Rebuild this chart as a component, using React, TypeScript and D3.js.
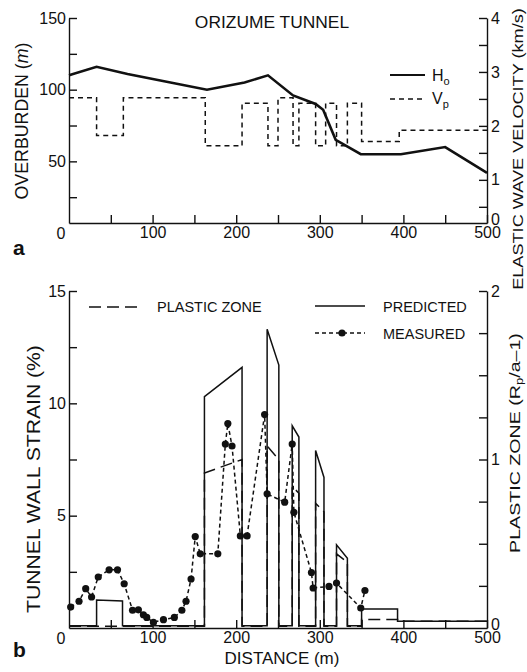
import { useEffect, useRef } from "react";
import * as d3 from "d3";

const FONT = "'Liberation Sans', Arial, Helvetica, sans-serif";

// (a) overburden H0 (m) along the tunnel
const hoDistance = [0, 33, 70, 165, 210, 238, 268, 295, 304, 319, 349, 397, 450, 500];
const hoOverburden = [110, 116, 111, 100, 105, 110, 96, 90, 86, 65, 55, 55, 60, 42];

// (a) elastic wave velocity Vp (km/s), constant from each break to the next one
const vpDistance = [0, 33, 65, 163, 207, 238, 250, 268, 275, 295, 307, 320, 333, 350, 395, 500];
const vpVelocity = [2.52, 1.82, 2.52, 1.63, 2.42, 1.63, 2.52, 1.63, 2.42, 1.63, 2.42, 1.63, 2.42, 1.71, 1.92, 1.92];

// (b) predicted tunnel wall strain (%)
const predDistance = [0, 33, 33, 64, 64, 162, 162, 207, 207, 237, 237, 251, 251, 267, 267, 275, 275, 295, 295, 305, 305, 320, 320, 333, 333, 350, 350, 393, 393, 500];
const predStrain = [0.1, 0.1, 1.25, 1.2, 0.1, 0.1, 10.3, 11.6, 0.1, 0.1, 13.3, 11.7, 0.1, 0.1, 9.0, 8.5, 0.1, 0.1, 7.9, 6.7, 0.1, 0.1, 3.7, 3.1, 0.1, 0.1, 0.85, 0.85, 0.3, 0.3];

// (b) predicted plastic zone (Rp/a - 1)
const plasticDistance = [0, 162, 162, 207, 207, 237, 237, 251, 251, 267, 267, 275, 275, 295, 295, 305, 305, 320, 320, 333, 333, 350, 350, 393, 393, 500];
const plasticZone = [0.01, 0.01, 0.92, 1.0, 0.01, 0.01, 1.08, 1.0, 0.01, 0.01, 0.84, 0.8, 0.01, 0.01, 0.74, 0.69, 0.01, 0.01, 0.44, 0.39, 0.01, 0.01, 0.05, 0.05, 0.04, 0.04];

// (b) measured wall strain (%)
const measDistance = [2, 12, 20, 27, 35, 48, 58, 66, 76, 83, 89, 93, 101, 113, 126, 135, 140, 146, 151, 157, 178, 187, 190, 195, 205, 213, 234, 237, 258, 267, 269, 290, 292, 311, 320, 349, 354];
const measStrain = [0.93, 1.19, 1.75, 1.38, 2.27, 2.59, 2.59, 1.97, 0.79, 0.81, 0.59, 0.47, 0.25, 0.37, 0.47, 0.79, 1.19, 2.18, 4.07, 3.3, 3.3, 8.19, 9.1, 8.1, 4.1, 4.1, 9.5, 5.97, 5.6, 8.19, 5.15, 2.47, 1.78, 1.85, 2.0, 0.89, 1.67];

const xTicks = [50, 100, 150, 200, 250, 300, 350, 400, 450, 500];
const overburdenTicks = [25, 50, 75, 100, 125, 150];
const velocityTicks = [0.5, 1, 1.5, 2, 2.5, 3, 3.5, 4];
const strainTicks = [2.5, 5, 7.5, 10, 12.5, 15];
const plasticTicks = [0.25, 0.5, 0.75, 1, 1.25, 1.5, 1.75, 2];

const zip = (a, b) => a.map((v, i) => [v, b[i]]);

export default function App() {
  const svgRef = useRef(null);

  useEffect(() => {
    const svg = d3.select(svgRef.current);
    svg.selectAll("*").remove();
    svg.attr("font-family", FONT);

    const x = d3.scaleLinear().domain([0, 500]).range([69, 487]);
    const yHo = d3.scaleLinear().domain([7, 150]).range([223, 18]);
    const yVp = d3.scaleLinear().domain([0.2, 4]).range([223, 18]);
    const yStrain = d3.scaleLinear().domain([0, 15]).range([628, 291]);
    const yPlastic = d3.scaleLinear().domain([0, 2]).range([628, 291]);

    const styleAxis = (g) => {
      g.attr("font-family", FONT).attr("font-size", 16);
      g.selectAll("path, line").attr("stroke", "#111").attr("stroke-width", 1.4);
      g.selectAll("text").attr("fill", "#111");
    };
    const every = (n) => (d) => (d % n === 0 ? d : "");

    // ---------- panel a ----------
    svg.append("g").attr("transform", "translate(0,223)")
      .call(d3.axisBottom(x).tickValues(xTicks).tickSize(-8).tickSizeOuter(0).tickPadding(4).tickFormat(every(100)))
      .call(styleAxis);
    svg.append("g").attr("transform", "translate(69,0)")
      .call(d3.axisLeft(yHo).tickValues(overburdenTicks).tickSize(-8).tickSizeOuter(0).tickPadding(3).tickFormat(every(50)))
      .call(styleAxis);
    svg.append("g").attr("transform", "translate(487,0)")
      .call(d3.axisRight(yVp).tickValues(velocityTicks).tickSize(-8).tickSizeOuter(0).tickPadding(4).tickFormat(every(1)))
      .call(styleAxis);

    const lineHo = d3.line().x((d) => x(d[0])).y((d) => yHo(d[1]));
    svg.append("path").datum(zip(hoDistance, hoOverburden))
      .attr("d", lineHo).attr("fill", "none").attr("stroke", "#111").attr("stroke-width", 2.6);

    const lineVp = d3.line().curve(d3.curveStepAfter).x((d) => x(d[0])).y((d) => yVp(d[1]));
    svg.append("path").datum(zip(vpDistance, vpVelocity))
      .attr("d", lineVp).attr("fill", "none").attr("stroke", "#111")
      .attr("stroke-width", 1.5).attr("stroke-dasharray", "5,4");

    // ---------- panel b ----------
    svg.append("g").attr("transform", "translate(0,628)")
      .call(d3.axisBottom(x).tickValues(xTicks).tickSize(-8).tickSizeOuter(0).tickPadding(4).tickFormat(every(100)))
      .call(styleAxis);
    svg.append("g").attr("transform", "translate(69,0)")
      .call(d3.axisLeft(yStrain).tickValues(strainTicks).tickSize(-8).tickSizeOuter(0).tickPadding(3).tickFormat(every(5)))
      .call(styleAxis);
    svg.append("g").attr("transform", "translate(487,0)")
      .call(d3.axisRight(yPlastic).tickValues(plasticTicks).tickSize(-8).tickSizeOuter(0).tickPadding(4).tickFormat(every(1)))
      .call(styleAxis);

    const linePred = d3.line().x((d) => x(d[0])).y((d) => yStrain(d[1]));
    svg.append("path").datum(zip(predDistance, predStrain))
      .attr("d", linePred).attr("fill", "none").attr("stroke", "#111").attr("stroke-width", 1.5);

    const linePlastic = d3.line().x((d) => x(d[0])).y((d) => yPlastic(d[1]));
    svg.append("path").datum(zip(plasticDistance, plasticZone))
      .attr("d", linePlastic).attr("fill", "none").attr("stroke", "#111")
      .attr("stroke-width", 1.5).attr("stroke-dasharray", "12,6");

    const meas = zip(measDistance, measStrain);
    svg.append("path").datum(meas)
      .attr("d", linePred).attr("fill", "none").attr("stroke", "#111")
      .attr("stroke-width", 1.5).attr("stroke-dasharray", "4,3");
    svg.append("g").selectAll("circle").data(meas).join("circle")
      .attr("cx", (d) => x(d[0])).attr("cy", (d) => yStrain(d[1])).attr("r", 3.6).attr("fill", "#111");

    // zero labels at the corners
    const plain = (tx, ty, s, size = 16, anchor = "middle") =>
      svg.append("text").attr("x", tx).attr("y", ty).attr("font-size", size)
        .attr("text-anchor", anchor).attr("fill", "#111").text(s);
    plain(61, 239, "0");
    plain(491, 225, "0", 16, "start");
    plain(61, 644, "0");
    plain(491, 630, "0", 16, "start");

    // titles and panel letters
    plain(272, 28, "ORIZUME TUNNEL", 17.4);
    plain(282, 664, "DISTANCE (m)", 17);
    svg.append("text").attr("x", 13).attr("y", 255).attr("font-size", 21).attr("font-weight", "bold").attr("fill", "#111").text("a");
    svg.append("text").attr("x", 13).attr("y", 657).attr("font-size", 21).attr("font-weight", "bold").attr("fill", "#111").text("b");

    // rotated axis titles, stretched to the length they have in the figure
    const vTitle = (cx, cy, size, target, build) => {
      const t = svg.append("text").attr("font-size", size).attr("text-anchor", "middle").attr("fill", "#111");
      build(t);
      const len = t.node().getComputedTextLength();
      t.attr("transform", `translate(${cx},${cy}) rotate(-90) scale(${target / len},1)`);
    };
    vTitle(27.5, 121, 18, 157, (t) => {
      t.append("tspan").text("OVERBURDEN (");
      t.append("tspan").attr("font-style", "italic").text("m");
      t.append("tspan").text(")");
    });
    vTitle(523, 149, 15, 282, (t) => t.text("ELASTIC WAVE VELOCITY (km/s)"));
    vTitle(40, 479, 18, 268, (t) => t.text("TUNNEL WALL STRAIN (%)"));
    vTitle(520, 443, 15, 220, (t) => {
      t.append("tspan").text("PLASTIC ZONE (R");
      t.append("tspan").attr("font-size", 10).attr("dy", 3).text("p");
      t.append("tspan").attr("dy", -3).text("/a\u20131)");
    });

    // legend, panel a
    svg.append("line").attr("x1", 390).attr("x2", 425).attr("y1", 75).attr("y2", 75)
      .attr("stroke", "#111").attr("stroke-width", 2);
    svg.append("line").attr("x1", 390).attr("x2", 425).attr("y1", 99).attr("y2", 99)
      .attr("stroke", "#111").attr("stroke-width", 1.5).attr("stroke-dasharray", "5,4");
    const sub = (tx, ty, main, s) => {
      const t = svg.append("text").attr("x", tx).attr("y", ty).attr("font-size", 16).attr("fill", "#111");
      t.append("tspan").text(main);
      t.append("tspan").attr("font-size", 11).attr("dy", 4).text(s);
    };
    sub(432, 81, "H", "o");
    sub(432, 104, "V", "p");

    // legend, panel b
    svg.append("line").attr("x1", 89).attr("x2", 138).attr("y1", 307).attr("y2", 307)
      .attr("stroke", "#111").attr("stroke-width", 1.5).attr("stroke-dasharray", "12,6");
    plain(157, 312, "PLASTIC ZONE", 14.5, "start");
    svg.append("line").attr("x1", 315).attr("x2", 365).attr("y1", 306).attr("y2", 306)
      .attr("stroke", "#111").attr("stroke-width", 1.5);
    plain(383, 312, "PREDICTED", 14.5, "start");
    svg.append("line").attr("x1", 315).attr("x2", 365).attr("y1", 333).attr("y2", 333)
      .attr("stroke", "#111").attr("stroke-width", 1.5).attr("stroke-dasharray", "4,3");
    svg.append("circle").attr("cx", 342).attr("cy", 333).attr("r", 3.6).attr("fill", "#111");
    plain(383, 339, "MEASURED", 14.5, "start");
  }, []);

  return (
    <svg
      ref={svgRef}
      width={527}
      height={672}
      style={{ position: "absolute", left: 0, top: 0, background: "#fff" }}
    />
  );
}
